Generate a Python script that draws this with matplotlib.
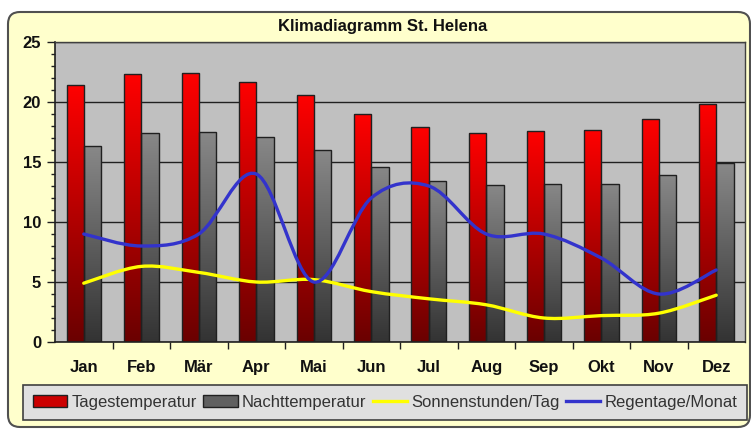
import numpy as np
import matplotlib
matplotlib.use("Agg")
import matplotlib.pyplot as plt
from matplotlib.patches import FancyBboxPatch, Patch
from matplotlib.lines import Line2D
from matplotlib.path import Path
from matplotlib.patches import PathPatch
from matplotlib.colors import LinearSegmentedColormap
from matplotlib.transforms import IdentityTransform

plt.rcParams['font.family'] = ['Liberation Sans', 'DejaVu Sans']

months = ['Jan', 'Feb', 'Mär', 'Apr', 'Mai', 'Jun', 'Jul', 'Aug', 'Sep', 'Okt', 'Nov', 'Dez']
tag_temp = [21.4, 22.3, 22.4, 21.7, 20.6, 19.0, 17.9, 17.4, 17.6, 17.7, 18.6, 19.8]
nacht_temp = [16.3, 17.4, 17.5, 17.1, 16.0, 14.6, 13.4, 13.1, 13.2, 13.2, 13.9, 14.9]
sonne = [4.9, 6.3, 5.8, 5.0, 5.2, 4.2, 3.6, 3.1, 2.0, 2.2, 2.4, 3.9]
regen = [9.0, 8.0, 9.0, 14.0, 5.0, 12.0, 13.0, 9.0, 9.0, 7.0, 4.0, 6.0]

W, H = 751, 429
fig = plt.figure(figsize=(W / 100, H / 100), dpi=100)
fig.patch.set_facecolor('white')

# rounded yellow panel (pixel coords, origin bottom left)
panel = FancyBboxPatch((8, H - 427), 742, 415, boxstyle="round,pad=0,rounding_size=12",
                       transform=IdentityTransform(), facecolor='#FFFFCC',
                       edgecolor='#505050', linewidth=1.5, zorder=-5)
fig.patches.append(panel)

ax = fig.add_axes([55 / W, 1 - 342 / H, 690 / W, 300 / H])
ax.set_facecolor('#C0C0C0')
x = np.arange(len(months))


def gradient_bars(bars, top, bottom):
    cmap = LinearSegmentedColormap.from_list('g', [bottom, top])
    grad = np.linspace(0, 1, 256).reshape(-1, 1)
    for b in bars:
        x0, y0 = b.get_x(), b.get_y()
        w, h = b.get_width(), b.get_height()
        im = ax.imshow(grad, extent=(x0, x0 + w, y0, y0 + h), origin='lower',
                       cmap=cmap, aspect='auto', zorder=2)
        im.set_clip_path(b)


red = ax.bar(x - 0.15, tag_temp, width=0.3, facecolor='none', edgecolor='#202020',
             linewidth=1.0, zorder=3)
grey = ax.bar(x + 0.15, nacht_temp, width=0.3, facecolor='none', edgecolor='#202020',
              linewidth=1.0, zorder=3)
gradient_bars(red, '#FF0000', '#6A0000')
gradient_bars(grey, '#888888', '#333333')


def smooth(xs, ys, color):
    # Catmull-Rom style bezier through the points
    pts = np.column_stack([xs, ys]).astype(float)
    verts = [pts[0]]
    codes = [Path.MOVETO]
    n = len(pts)
    for i in range(n - 1):
        p0 = pts[max(i - 1, 0)]
        p1 = pts[i]
        p2 = pts[i + 1]
        p3 = pts[min(i + 2, n - 1)]
        c1 = p1 + (p2 - p0) / 6
        c2 = p2 - (p3 - p1) / 6
        verts += [c1, c2, p2]
        codes += [Path.CURVE4] * 3
    ax.add_patch(PathPatch(Path(verts, codes), facecolor='none', edgecolor=color,
                           linewidth=2.4, zorder=4, capstyle='round', joinstyle='round'))


smooth(x, sonne, '#FFFF00')
smooth(x, regen, '#3333CC')

ax.set_xlim(-0.5, 11.5)
ax.set_ylim(0, 25)
ax.set_yticks(np.arange(0, 26, 5))
ax.set_yticks(np.arange(0, 26, 1), minor=True)
ax.set_xticks(x)
ax.set_xticklabels(months)
ax.set_xticks(np.arange(0.5, 11.5, 1), minor=True)
ax.tick_params(axis='x', which='major', length=0, pad=13)
ax.tick_params(axis='x', which='minor', length=5, width=1, direction='out', color='#202020')
ax.tick_params(axis='y', which='major', length=6, width=1, pad=4, color='#202020')
ax.tick_params(axis='y', which='minor', length=3, width=1, color='#202020')
for lab in ax.get_xticklabels() + ax.get_yticklabels():
    lab.set_fontweight('bold')
    lab.set_fontsize(12)
    lab.set_color('#111111')

ax.yaxis.grid(True, color='#202020', linewidth=1.0)
ax.set_axisbelow(True)
for s in ['left', 'bottom']:
    ax.spines[s].set_color('#202020')
    ax.spines[s].set_linewidth(1.2)
for s in ['top', 'right']:
    ax.spines[s].set_color('#404040')
    ax.spines[s].set_linewidth(1.0)

fig.text(383 / W, 1 - 27 / H, 'Klimadiagramm St. Helena', ha='center', va='center',
         fontsize=12, fontweight='bold', color='#111111')

handles = [Patch(facecolor='#CC0000', edgecolor='#202020'),
           Patch(facecolor='#606060', edgecolor='#202020'),
           Line2D([], [], color='#FFFF00', linewidth=2.4),
           Line2D([], [], color='#3333CC', linewidth=2.4)]
labels = ['Tagestemperatur', 'Nachttemperatur', 'Sonnenstunden/Tag', 'Regentage/Monat']
leg = fig.legend(handles, labels, loc='upper left', bbox_to_anchor=(23 / W, 1 - 385 / H),
                 ncol=4, fontsize=12, frameon=True, fancybox=False, borderaxespad=0,
                 handlelength=2.05, handletextpad=0.25, columnspacing=0.4, borderpad=0.6)
leg.get_frame().set_facecolor('#E0E0E0')
leg.get_frame().set_edgecolor('#404040')
leg.get_frame().set_linewidth(1.2)
leg.get_frame().set_alpha(1)
for t in leg.get_texts():
    t.set_color('#333333')

fig.savefig('out.png', dpi=100)
